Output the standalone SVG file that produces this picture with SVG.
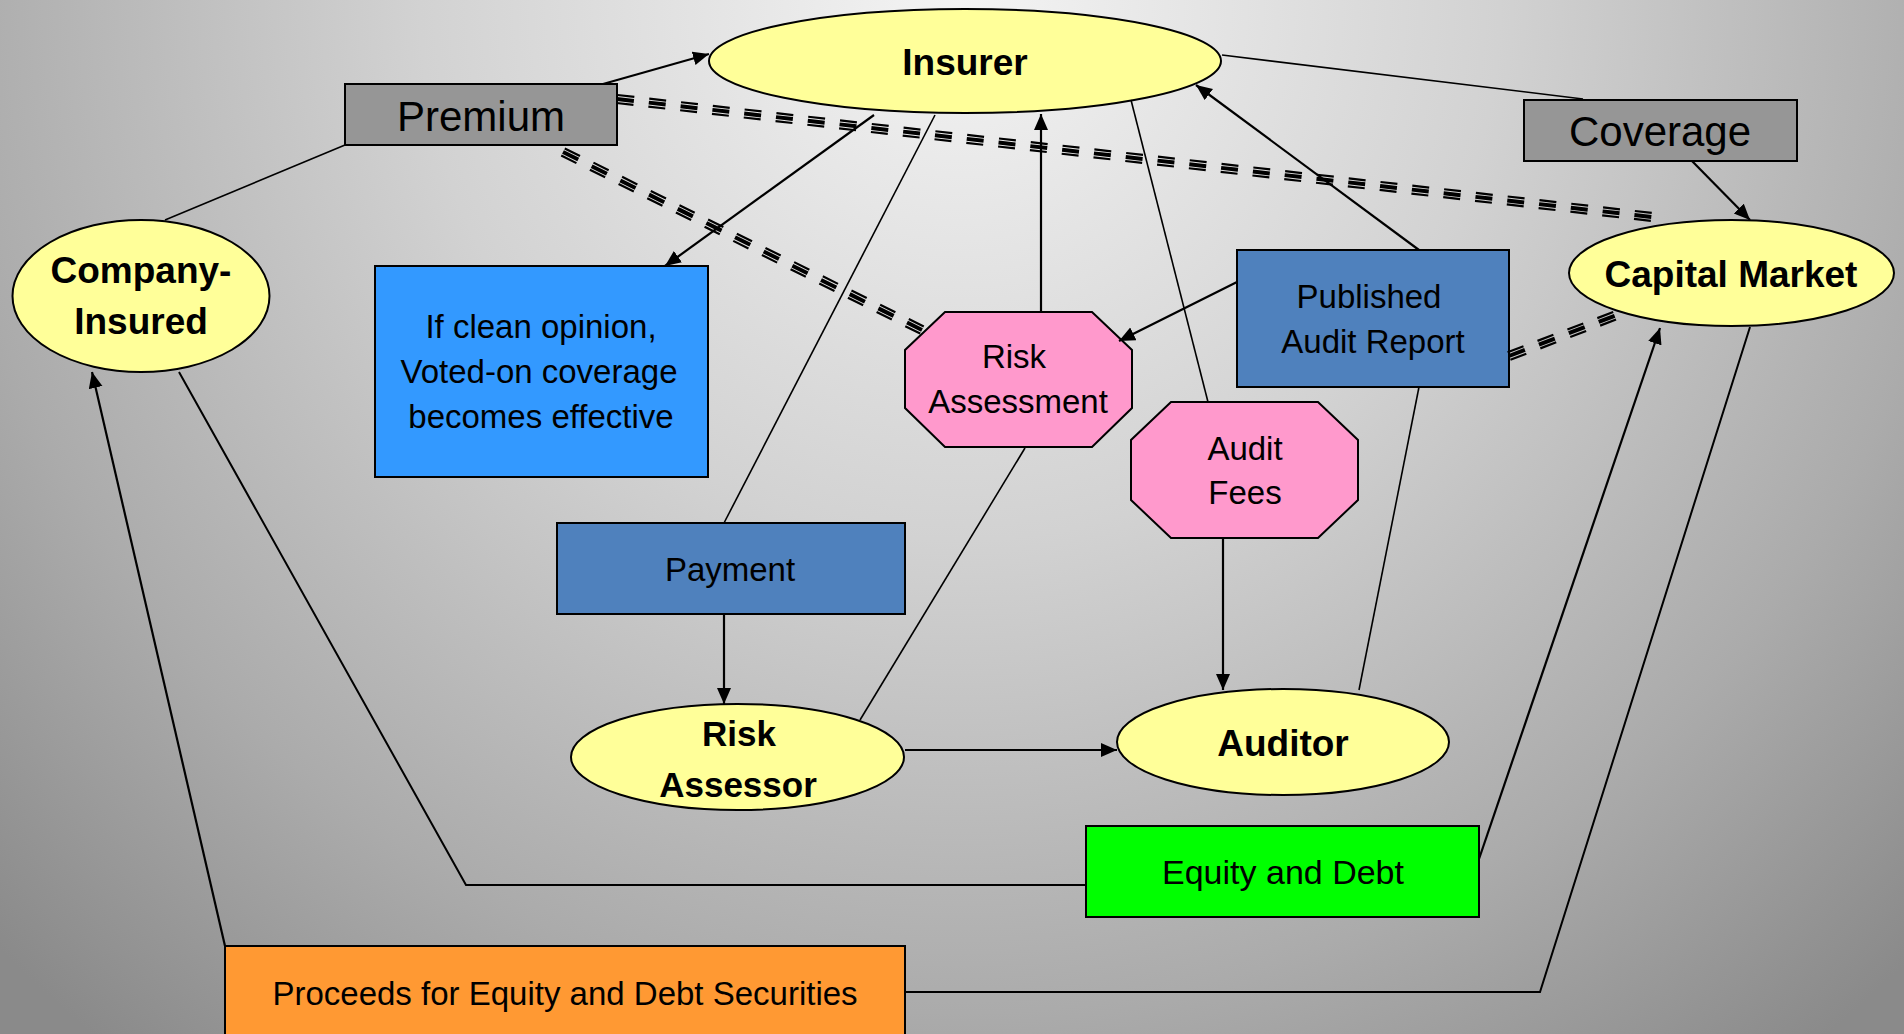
<svg xmlns="http://www.w3.org/2000/svg" width="1904" height="1034" viewBox="0 0 1904 1034">
<defs>
<radialGradient id="bg" gradientUnits="userSpaceOnUse" cx="960" cy="0" r="1350">
<stop offset="0" stop-color="#f4f4f4"/>
<stop offset="0.4" stop-color="#d2d2d2"/>
<stop offset="0.75" stop-color="#ababab"/>
<stop offset="1" stop-color="#8a8a8a"/>
</radialGradient>
<marker id="arr" markerUnits="userSpaceOnUse" markerWidth="17" markerHeight="15" refX="16" refY="7" orient="auto">
<path d="M0,0 L16,7 L0,14 z" fill="#000"/>
</marker>
</defs>
<style>
.oval{fill:#ffff99;stroke:#000;stroke-width:2}
.gray{fill:#969696;stroke:#000;stroke-width:2}
.blue{fill:#4f81bd;stroke:#000;stroke-width:2}
.sky{fill:#3399ff;stroke:#000;stroke-width:2}
.pink{fill:#ff99cc;stroke:#000;stroke-width:2}
.green{fill:#00ff00;stroke:#000;stroke-width:2}
.orange{fill:#ff9933;stroke:#000;stroke-width:2}
text{font-family:"Liberation Sans",Arial,sans-serif;fill:#000;text-anchor:middle}
.b{font-weight:bold;font-size:37px}
.r{font-size:33px}
.l{font-size:42px}
.ln{fill:none;stroke:#000;stroke-width:1.6}
.ar{fill:none;stroke:#000;stroke-width:2.2;marker-end:url(#arr)}
.d{stroke:#000;stroke-dasharray:17 15}
.d1{stroke-width:2.2}
.d2{stroke-width:4}
</style>
<rect x="0" y="0" width="1904" height="1034" fill="url(#bg)"/>

<g id="insurer"><ellipse class="oval" cx="965" cy="61" rx="256" ry="52"/><text class="b" x="965" y="75">Insurer</text></g>
<g id="premium"><rect class="gray" x="345" y="84" width="272" height="61"/><text class="l" x="481" y="131">Premium</text></g>
<g id="coverage"><rect class="gray" x="1524" y="100" width="273" height="61"/><text class="l" x="1660" y="146">Coverage</text></g>
<g id="company-insured"><ellipse class="oval" cx="141" cy="296" rx="128.5" ry="76"/><text class="b" x="141" y="283">Company-</text><text class="b" x="141" y="334">Insured</text></g>
<g id="capital-market"><ellipse class="oval" cx="1731.5" cy="273" rx="162.5" ry="53"/><text class="b" x="1731" y="287">Capital Market</text></g>
<g id="clean-opinion"><rect class="sky" x="375" y="266" width="333" height="211"/><text class="r" x="541" y="338">If clean opinion,</text><text class="r" x="539" y="383">Voted-on coverage</text><text class="r" x="541" y="428">becomes effective</text></g>
<g id="payment"><rect class="blue" x="557" y="523" width="348" height="91"/><text class="r" x="730" y="581">Payment</text></g>
<g id="published-audit-report"><rect class="blue" x="1237" y="250" width="272" height="137"/><text class="r" x="1369" y="308">Published</text><text class="r" x="1373" y="353">Audit Report</text></g>
<g id="risk-assessment"><polygon class="pink" points="945,312 1092,312 1132,350 1132,408 1092,447 945,447 905,408 905,350"/><text class="r" x="1014" y="368">Risk</text><text class="r" x="1018" y="413">Assessment</text></g>
<g id="audit-fees"><polygon class="pink" points="1171,402 1318,402 1358,440 1358,500 1318,538 1171,538 1131,500 1131,440"/><text class="r" x="1245" y="460">Audit</text><text class="r" x="1245" y="504">Fees</text></g>
<g id="risk-assessor"><ellipse class="oval" cx="737.5" cy="757" rx="166.5" ry="53"/><text class="b" x="739" y="746" style="font-size:35px">Risk</text><text class="b" x="738" y="797" style="font-size:35px">Assessor</text></g>
<g id="auditor"><ellipse class="oval" cx="1283" cy="742" rx="166" ry="53"/><text class="b" x="1283" y="756">Auditor</text></g>
<g id="equity-debt"><rect class="green" x="1086" y="826" width="393" height="91"/><text class="r" x="1283" y="884" style="font-size:34px">Equity and Debt</text></g>
<g id="proceeds"><rect class="orange" x="225" y="946" width="680" height="100"/><text class="r" x="565" y="1005">Proceeds for Equity and Debt Securities</text></g>

<g id="connectors">
<line class="ln" x1="165" y1="220" x2="345" y2="145"/>
<line class="ar" x1="603" y1="84" x2="709" y2="54"/>
<line class="ln" x1="1222" y1="55" x2="1583" y2="99"/>
<line class="ar" x1="1692" y1="161" x2="1750" y2="220"/>
<line class="ar" x1="874" y1="115" x2="665" y2="266"/>
<line class="ln" x1="935" y1="115" x2="724" y2="523"/>
<line class="ar" x1="1041" y1="312" x2="1041" y2="114"/>
<line class="ln" x1="1131" y1="100" x2="1208" y2="402"/>
<line class="ar" x1="1419" y1="250" x2="1196" y2="85"/>
<line class="ar" x1="1237" y1="282" x2="1119" y2="341"/>
<line class="ln" x1="1419" y1="387" x2="1359" y2="690"/>
<line class="ar" x1="1223" y1="538" x2="1223" y2="690"/>
<line class="ar" x1="724" y1="614" x2="724" y2="704"/>
<line class="ln" x1="860" y1="720" x2="1025" y2="448"/>
<line class="ar" x1="905" y1="750" x2="1117" y2="750"/>
<polyline class="ln" points="179,372 466,885 1086,885" style="stroke-width:2"/>
<line class="ar" x1="1479" y1="859" x2="1660" y2="328"/>
<polyline class="ln" points="1750,327 1540,992 905,992" style="stroke-width:2"/>
<line class="ar" x1="225" y1="946" x2="92" y2="372"/>
<g transform="translate(617,99) rotate(6.504)">
<line class="d d1" x1="0" y1="-4" x2="1041.7" y2="-4"/><line class="d d2" x1="0" y1="0" x2="1041.7" y2="0"/><line class="d d1" x1="0" y1="4" x2="1041.7" y2="4"/>
</g>
<g transform="translate(563,152) rotate(26.37)">
<line class="d d1" x1="0" y1="-4" x2="400.7" y2="-4"/><line class="d d2" x1="0" y1="0" x2="400.7" y2="0"/><line class="d d1" x1="0" y1="4" x2="400.7" y2="4"/>
</g>
<g transform="translate(1509,356) rotate(-20.83)">
<line class="d d1" x1="0" y1="-4" x2="120.9" y2="-4"/><line class="d d2" x1="0" y1="0" x2="120.9" y2="0"/><line class="d d1" x1="0" y1="4" x2="120.9" y2="4"/>
</g>
</g>
</svg>
